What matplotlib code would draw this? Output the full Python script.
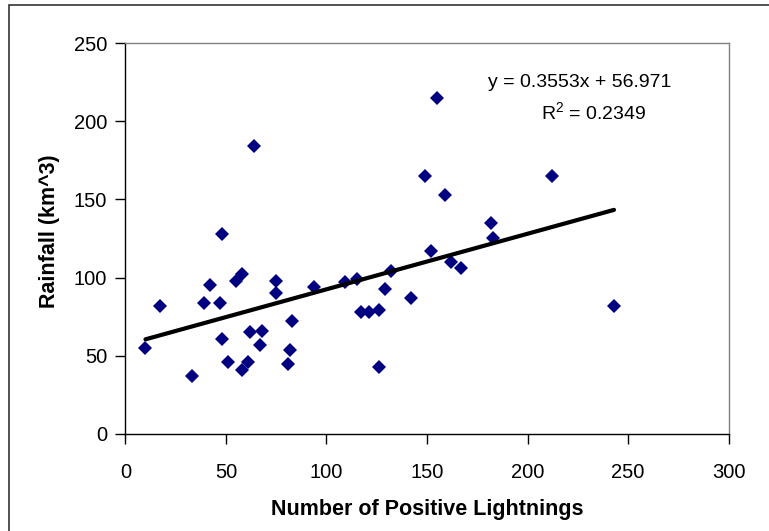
import matplotlib
matplotlib.use("Agg")
import matplotlib.pyplot as plt
from matplotlib.patches import Rectangle

plt.rcParams['font.family'] = ['Liberation Sans', 'DejaVu Sans']
plt.rcParams['mathtext.fontset'] = 'custom'
plt.rcParams['mathtext.rm'] = 'Liberation Sans'

# positive lightning counts vs rainfall
lightnings = [10, 17, 33, 39, 42, 47, 48, 48, 51, 55, 58, 58, 61, 62, 64,
              67, 68, 75, 75, 81, 82, 83, 94, 109, 115, 117, 121, 126, 126,
              129, 132, 142, 149, 152, 155, 159, 162, 167, 182, 183, 212, 243]
rainfall = [55, 82, 37, 84, 95, 84, 61, 128, 46, 98, 41, 102, 46, 65, 184,
            57, 66, 98, 90, 45, 54, 72, 94, 97, 99, 78, 78, 79, 43,
            93, 104, 87, 165, 117, 215, 153, 110, 106, 135, 125, 165, 82]

slope, intercept = 0.3553, 56.971
r2 = 0.2349

xticks = [0, 50, 100, 150, 200, 250, 300]
yticks = [0, 50, 100, 150, 200, 250]

fig = plt.figure(figsize=(7.69, 5.31), dpi=100)
ax = fig.add_axes([0.163, 0.1827, 0.7845, 0.7363])

ax.plot(lightnings, rainfall, linestyle='none', marker='D', markersize=7.6,
        color='#000080', markeredgewidth=0, zorder=3)

x0, x1 = min(lightnings), max(lightnings)
ax.plot([x0, x1], [slope * x0 + intercept, slope * x1 + intercept],
        color='black', linewidth=3, solid_capstyle='round', zorder=4)

# trendline label
ax.text(226.1, 221.7, f"y = {slope}x + {intercept}", fontsize=14,
        ha='center', va='baseline')
ax.text(233.1, 200.8, f"R$^2$ = {r2}", fontsize=14,
        ha='center', va='baseline')

ax.set_xlim(0, 300)
ax.set_ylim(0, 250)
ax.set_xticks(xticks)
ax.set_yticks(yticks)
ax.tick_params(axis='x', direction='out', length=7, width=1, pad=14, labelsize=14.5)
ax.tick_params(axis='y', direction='out', length=7, width=1, pad=6, labelsize=14.5)

for side in ['left', 'bottom']:
    ax.spines[side].set_color('black')
    ax.spines[side].set_linewidth(1)
for side in ['top', 'right']:
    ax.spines[side].set_color('#808080')
    ax.spines[side].set_linewidth(1)

ax.set_xlabel("Number of Positive Lightnings", fontsize=15.5, fontweight='bold')
ax.set_ylabel("Rainfall (km^3)", fontsize=15.5, fontweight='bold')
ax.xaxis.set_label_coords(0.5, -0.194)
ax.xaxis.label.set_verticalalignment('center')
ax.yaxis.set_label_coords(-0.125, 0.519)
ax.yaxis.label.set_verticalalignment('center')

# outer chart border
fig.patches.append(Rectangle((8.7 / 769, -0.05), 1.1, 1.05 - 4.7 / 531,
                             transform=fig.transFigure, fill=False,
                             edgecolor='#333333', linewidth=1.2))

fig.savefig("out.png", dpi=100)
